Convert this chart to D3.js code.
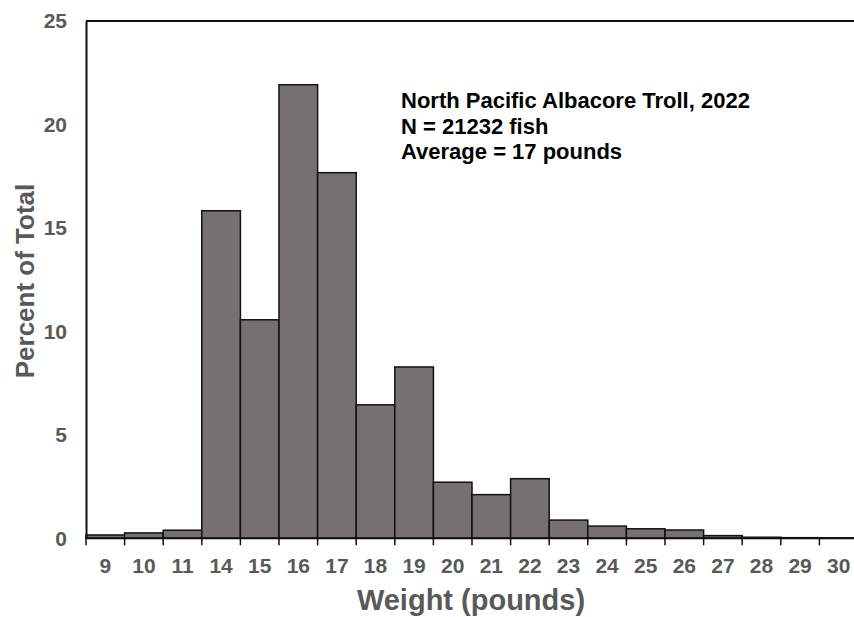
<!DOCTYPE html>
<html><head><meta charset="utf-8">
<script src="https://cdn.jsdelivr.net/npm/d3@7"></script>
<style>body{margin:0;background:#fff;}svg{display:block;}</style>
</head><body>
<script>
const categories = ["9","10","11","14","15","16","17","18","19","20","21","22","23","24","25","26","27","28","29","30"];
const percents = [0.16,0.26,0.39,15.83,10.56,21.92,17.67,6.45,8.28,2.71,2.11,2.88,0.88,0.59,0.46,0.40,0.13,0.05,0.03,0.02];
const yTicks = [0,5,10,15,20,25];
const annotation = ["North Pacific Albacore Troll, 2022","N = 21232 fish","Average = 17 pounds"];

(function(){
const W = 854, H = 617;
const mLeft = 86, mRight = 858, mTop = 21, mBottom = 538.3;
const svg = d3.select("body").append("svg").attr("width", W).attr("height", H);
const x = d3.scaleBand().domain(categories).range([mLeft, mRight]).padding(0);
const y = d3.scaleLinear().domain([0, 25]).range([mBottom, mTop]);
const font = "'Liberation Sans', Arial, sans-serif";
const gray = "#595959";

// bars
svg.append("g").selectAll("rect").data(categories).join("rect")
  .attr("x", d => x(d)).attr("width", x.bandwidth())
  .attr("y", (d,i) => y(percents[i])).attr("height", (d,i) => y(0) - y(percents[i]))
  .attr("fill", "#767171").attr("stroke", "#111").attr("stroke-width", 1.5);

// top border
svg.append("line").attr("x1", mLeft).attr("x2", W).attr("y1", mTop).attr("y2", mTop)
  .attr("stroke", "#111").attr("stroke-width", 2);

// y axis
const ya = svg.append("g").attr("transform", `translate(${mLeft},0)`)
  .call(d3.axisLeft(y).tickValues(yTicks).tickSize(0).tickPadding(19));
ya.select(".domain").attr("stroke", "#111").attr("stroke-width", 2);
ya.selectAll("text").attr("font-family", font).attr("font-size", 21).attr("font-weight", "bold").attr("fill", gray);

// x axis
const xa = svg.append("g").attr("transform", `translate(0,${mBottom})`)
  .call(d3.axisBottom(x).tickSize(0).tickPadding(20));
xa.select(".domain").attr("d", `M${mLeft},0H${W}`).attr("stroke", "#111").attr("stroke-width", 2);
xa.selectAll("text").attr("font-family", font).attr("font-size", 21).attr("font-weight", "bold").attr("fill", gray);
// boundary ticks
const bounds = categories.map(c => x(c)).concat([x(categories[categories.length-1]) + x.bandwidth()]);
xa.append("g").selectAll("line").data(bounds.filter(b => b <= W)).join("line")
  .attr("x1", d => d).attr("x2", d => d).attr("y1", 0).attr("y2", 7)
  .attr("stroke", "#111").attr("stroke-width", 1.5);

// axis titles
svg.append("text").attr("x", 471).attr("y", 610).attr("text-anchor", "middle")
  .attr("font-family", font).attr("font-size", 29).attr("font-weight", "bold").attr("fill", gray)
  .text("Weight (pounds)");
svg.append("text").attr("transform", "translate(34,281) rotate(-90)").attr("text-anchor", "middle")
  .attr("font-family", font).attr("font-size", 26).attr("font-weight", "bold").attr("fill", gray)
  .text("Percent of Total");

// annotation
svg.append("g").selectAll("text").data(annotation).join("text")
  .attr("x", 401).attr("y", (d,i) => 108 + i*25.5)
  .attr("font-family", font).attr("font-size", 22).attr("font-weight", "bold").attr("fill", "#000")
  .text(d => d);
})();
</script>
</body></html>
